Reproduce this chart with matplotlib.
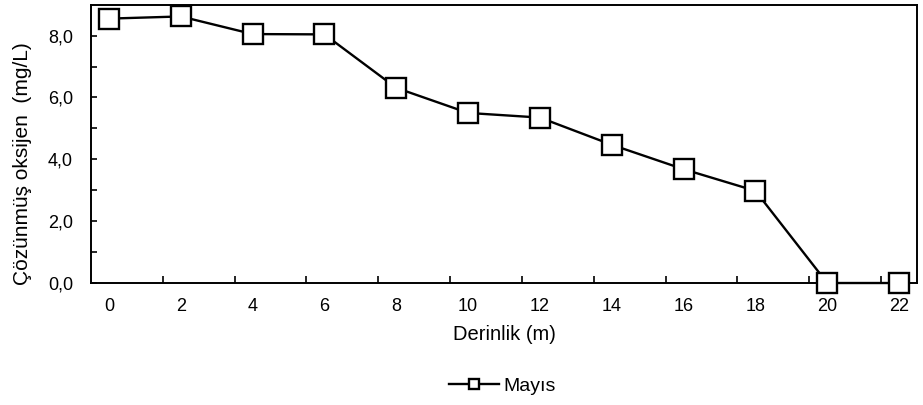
import matplotlib
matplotlib.use("Agg")
import matplotlib.pyplot as plt
from matplotlib.ticker import FixedLocator, FuncFormatter

plt.rcParams['font.family'] = ['Liberation Sans', 'DejaVu Sans']

# depth (m) and dissolved oxygen (mg/L), May
derinlik = [0, 2, 4, 6, 8, 10, 12, 14, 16, 18, 20, 22]
mayis = [8.55, 8.62, 8.05, 8.04, 6.31, 5.50, 5.35, 4.47, 3.68, 2.98, 0.0, 0.0]

x_label = "Derinlik (m)"
y_label = "Çözünmüş oksijen  (mg/L)"
seri_adi = "Mayıs"

fig = plt.figure(figsize=(9.23, 4.05), dpi=100)
ax = fig.add_axes([0.0986, 0.3012, 0.8949, 0.6872])

ax.plot(derinlik, mayis, color='black', lw=1.7, marker='s', markersize=15,
        markerfacecolor='white', markeredgecolor='black', markeredgewidth=1.7,
        label=seri_adi, clip_on=False, zorder=3)

ax.set_xlim(-0.5, 22.5)
ax.set_ylim(0, 9)

# tick marks sit between the categories, labels sit on the points
ax.xaxis.set_major_locator(FixedLocator([d + 1.5 for d in derinlik[:-1]]))
ax.xaxis.set_major_formatter(FuncFormatter(lambda v, p: ""))
ax.xaxis.set_minor_locator(FixedLocator(derinlik))
ax.xaxis.set_minor_formatter(FuncFormatter(lambda v, p: "%d" % round(v)))
ax.tick_params(axis='x', which='major', direction='in', length=5, width=1.2)
ax.tick_params(axis='x', which='minor', length=0, pad=11, labelsize=13)

ax.yaxis.set_major_locator(FixedLocator([0, 2, 4, 6, 8]))
ax.yaxis.set_minor_locator(FixedLocator([1, 3, 5, 7]))
ax.yaxis.set_major_formatter(FuncFormatter(lambda v, p: ("%.1f" % v).replace(".", ",")))
ax.tick_params(axis='y', which='both', direction='in', length=4, width=1.2,
               pad=13, labelsize=13)

for s in ax.spines.values():
    s.set_linewidth(1.4)
    s.set_color('black')

ax.set_xlabel(x_label, fontsize=14.5, labelpad=7)
ax.set_ylabel(y_label, fontsize=15)
ax.yaxis.set_label_coords(-0.072, 0.43)

fig.legend(loc='center', bbox_to_anchor=(502 / 923, 1 - 386 / 405),
           frameon=False, fontsize=14, markerscale=0.5, handlelength=2.6,
           handletextpad=0.2)

fig.savefig("out.png", dpi=100)
